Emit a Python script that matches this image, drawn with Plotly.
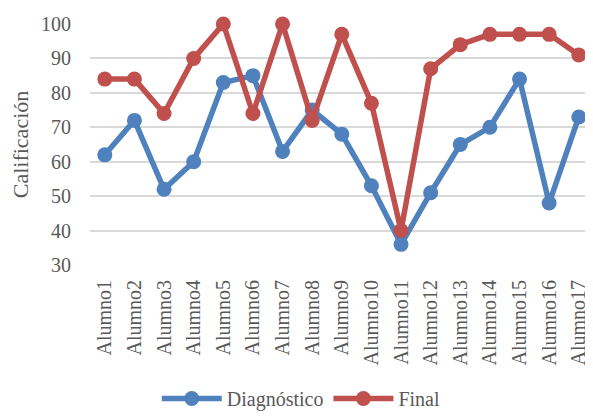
import plotly.graph_objects as go

alumnos = [f"Alumno{i}" for i in range(1, 18)]
diagnostico = [62, 72, 52, 60, 83, 85, 63, 75, 68, 53, 36, 51, 65, 70, 84, 48, 73]
final = [84, 84, 74, 90, 100, 74, 100, 72, 97, 77, 40, 87, 94, 97, 97, 97, 91]
y_ticks = [30, 40, 50, 60, 70, 80, 90, 100]

font_family = "Liberation Serif"
gray = "#595959"

fig = go.Figure()
fig.add_trace(go.Scatter(
    x=alumnos, y=diagnostico, name="Diagnóstico", mode="lines+markers",
    line=dict(color="#4F81BD", width=5.5), marker=dict(size=15, color="#4F81BD"),
    cliponaxis=False))
fig.add_trace(go.Scatter(
    x=alumnos, y=final, name="Final", mode="lines+markers",
    line=dict(color="#C0504D", width=5.5), marker=dict(size=15, color="#C0504D"),
    cliponaxis=False))

fig.update_layout(
    width=585, height=410,
    margin=dict(l=82, r=0, t=16, b=147),
    paper_bgcolor="white", plot_bgcolor="white",
    font=dict(family=font_family, color=gray, size=20),
    showlegend=True,
    legend=dict(orientation="h", x=0.42, xanchor="center", y=-0.555, yanchor="middle",
                font=dict(family=font_family, size=20, color=gray), itemwidth=60,
                tracegroupgap=0),
    xaxis=dict(range=[-0.5, 16.48], tickangle=-90, showgrid=False, showline=False,
               ticks="", tickfont=dict(family=font_family, size=20, color=gray),
               ticklabelstandoff=10, automargin=False),
    yaxis=dict(range=[30, 100], tickvals=y_ticks, showgrid=True, gridcolor="#D9D9D9",
               gridwidth=1.5, zeroline=False, showline=False, ticks="",
               tickfont=dict(family=font_family, size=20, color=gray),
               ticklabelstandoff=18, automargin=False,
               title=dict(text="Calificación",
                          font=dict(family=font_family, size=22, color=gray),
                          standoff=6)),
)

fig.write_html("out.html")
